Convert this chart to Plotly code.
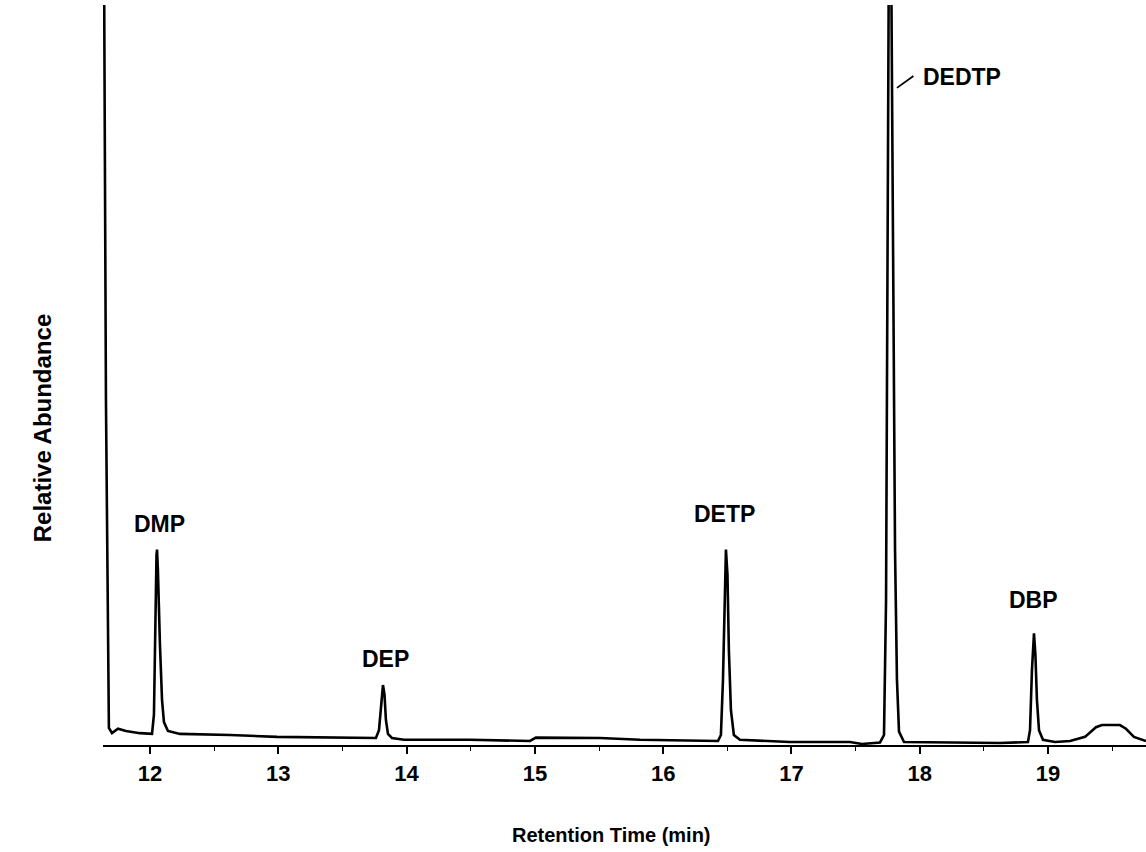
import plotly.graph_objects as go

# ---- data ----
time_min = [11.641, 11.657, 11.680, 11.704, 11.751, 11.813, 11.922, 12.016, 12.031, 12.039,
            12.051, 12.055, 12.062, 12.078, 12.094, 12.109, 12.140, 12.234, 12.624, 12.990,
            13.481, 13.761, 13.785, 13.800, 13.816, 13.828, 13.839, 13.855, 13.886, 13.980,
            14.494, 14.962, 15.008, 15.507, 15.819, 16.427, 16.450, 16.466, 16.481, 16.489,
            16.501, 16.512, 16.528, 16.551, 16.598, 16.988, 17.456, 17.549, 17.690, 17.721,
            17.737, 17.748, 17.760, 17.775, 17.791, 17.807, 17.822, 17.838, 17.877, 18.625,
            18.843, 18.859, 18.874, 18.890, 18.901, 18.913, 18.929, 18.960, 19.054, 19.171,
            19.288, 19.373, 19.420, 19.560, 19.607, 19.669, 19.763]
abundance = [110.0, 46.6, 2.3, 1.6, 2.2, 1.9, 1.6, 1.5, 4.1, 14.2,
             25.7, 26.4, 23.6, 13.5, 6.1, 3.1, 1.9, 1.5, 1.35, 1.1,
             0.95, 0.95, 2.0, 5.4, 8.1, 6.8, 3.4, 1.5, 0.95, 0.7,
             0.7, 0.54, 1.0, 0.95, 0.7, 0.54, 1.35, 8.8, 22.3, 26.4,
             23.0, 12.8, 4.7, 1.35, 0.7, 0.4, 0.4, 0.14, 0.34, 1.35,
             19.6, 73.6, 111.5, 111.5, 66.9, 26.4, 8.8, 1.8, 0.4, 0.27,
             0.4, 2.0, 10.1, 15.1, 12.2, 6.1, 2.0, 0.7, 0.4, 0.54,
             1.1, 2.4, 2.7, 2.7, 2.2, 1.1, 0.54]

peak_names = ["DMP", "DEP", "DETP", "DEDTP", "DBP"]
label_time = [12.078, 13.832, 16.474, 18.329, 18.889]
label_abund = [29.9, 11.6, 31.2, 90.3, 19.6]

tick_values = [12, 13, 14, 15, 16, 17, 18, 19]
x_range = [11.634, 19.763]
y_range = [0, 100]

FONT = "Liberation Sans, Arial, sans-serif"

fig = go.Figure()
fig.add_trace(go.Scatter(
    x=time_min, y=abundance, mode="lines",
    line=dict(color="black", width=2.6),
    hoverinfo="skip", showlegend=False,
))

annotations = []
for name, t, a in zip(peak_names, label_time, label_abund):
    annotations.append(dict(
        x=t, y=a, xref="x", yref="y", text=name, showarrow=False,
        font=dict(family=FONT, size=23, color="black", weight="bold"),
        xanchor="center", yanchor="middle",
    ))

# leader line for DEDTP
annotations.append(dict(
    x=17.822, y=88.8, xref="x", yref="y", text="", showarrow=True,
    arrowhead=0, arrowwidth=1.8, arrowcolor="black", ax=18, ay=-13,
))

# axis titles
annotations.append(dict(
    x=0.488, y=0, xref="paper", yref="paper", yshift=-90,
    text="Retention Time (min)", showarrow=False,
    font=dict(family=FONT, size=20, color="black", weight="bold"),
    xanchor="center", yanchor="middle",
))
annotations.append(dict(
    x=0, y=0.428, xref="paper", yref="paper", xshift=-61,
    text="Relative Abundance", showarrow=False, textangle=-90,
    font=dict(family=FONT, size=24, color="black", weight="bold"),
    xanchor="center", yanchor="middle",
))

fig.update_layout(
    width=1146, height=852,
    margin=dict(l=103, r=0, t=5, b=107),
    paper_bgcolor="white", plot_bgcolor="white",
    showlegend=False,
    annotations=annotations,
    xaxis=dict(
        range=x_range, tickmode="array", tickvals=tick_values,
        ticktext=[str(v) for v in tick_values],
        ticks="outside", ticklen=7, tickwidth=1.8, tickcolor="black",
        showline=True, linecolor="black", linewidth=2.4,
        showgrid=False, zeroline=False,
        tickfont=dict(family=FONT, size=22, color="black", weight="bold"),
        ticklabelstandoff=0,
        minor=dict(dtick=0.5, tick0=0, ticks="outside", ticklen=4,
                   tickwidth=1.4, tickcolor="black", showgrid=False),
    ),
    yaxis=dict(
        range=y_range, showline=False, showticklabels=False, ticks="",
        showgrid=False, zeroline=False,
    ),
)

fig.write_html(
    "out.html",
    config={"displayModeBar": False},
    post_script="document.body.style.margin='0px';document.body.style.overflow='hidden';",
)
